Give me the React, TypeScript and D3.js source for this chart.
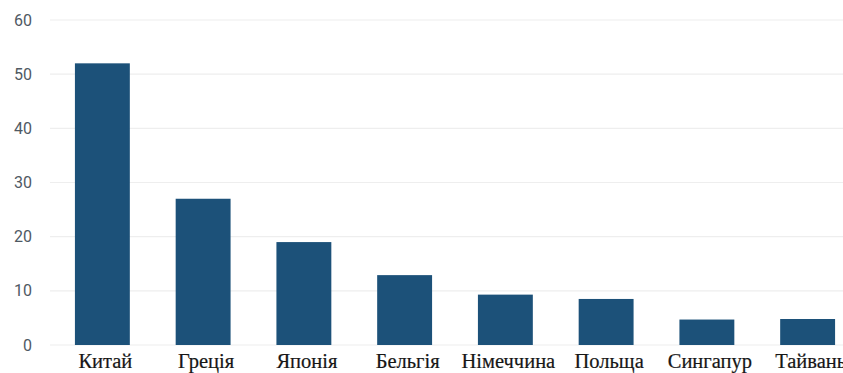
import React from "react";
import * as d3 from "d3";

const categories = ["Китай", "Греція", "Японія", "Бельгія", "Німеччина", "Польща", "Сингапур", "Тайвань"];
const values = [52, 27, 19, 12.9, 9.3, 8.5, 4.7, 4.8];
const yTicks = [0, 10, 20, 30, 40, 50, 60];

const W = 843;
const H = 373;

export default function App() {
  const y = d3.scaleLinear().domain([0, 60]).range([345, 20]);
  const x = d3
    .scaleBand<string>()
    .domain(categories)
    .range([52, 858])
    .paddingInner(0.455)
    .paddingOuter(0.2275);

  return (
    <svg width={W} height={H} style={{ position: "absolute", left: 0, top: 0, background: "#fff" }}>
      <g>
        {yTicks.map((t) => (
          <g key={t}>
            <line x1={50} x2={W} y1={y(t)} y2={y(t)} stroke="#eeeeee" strokeWidth={1.2} />
            <text
              x={32}
              y={y(t)}
              textAnchor="end"
              dominantBaseline="central"
              fontFamily="Roboto, 'Noto Sans', sans-serif"
              fontSize={16}
              fill="#4f5963"
            >
              {t}
            </text>
          </g>
        ))}
      </g>
      <g>
        {categories.map((c, i) => (
          <rect
            key={c}
            x={x(c)}
            y={y(values[i])}
            width={x.bandwidth()}
            height={y(0) - y(values[i])}
            fill="#1c5179"
          />
        ))}
      </g>
      <g>
        {categories.map((c) => (
          <text
            key={c}
            x={(x(c) as number) + x.bandwidth() / 2 + 3}
            y={368}
            textAnchor="middle"
            fontFamily="'Liberation Serif', 'Times New Roman', serif"
            fontSize={20.5}
            fill="#161616"
            stroke="#161616"
            strokeWidth={0.2}
          >
            {c}
          </text>
        ))}
      </g>
    </svg>
  );
}
